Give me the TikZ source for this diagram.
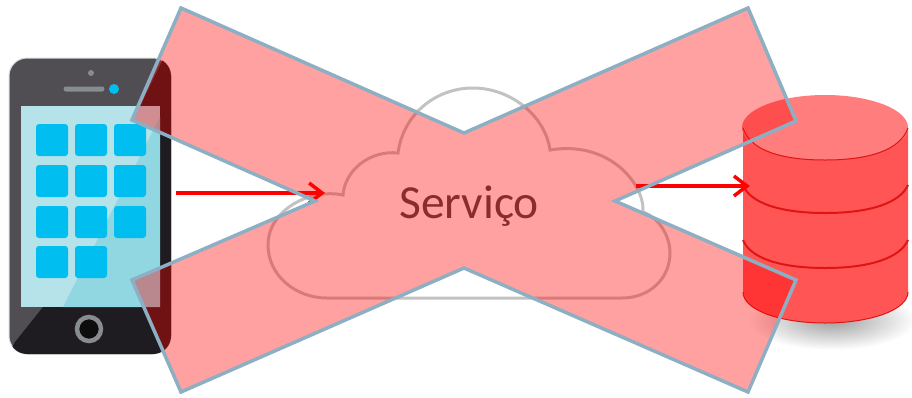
\documentclass[tikz,border=0pt]{standalone}
\usepackage{fontspec}
\setmainfont{Carlito}
\usetikzlibrary{arrows.meta}
\definecolor{phonegrey}{RGB}{80,78,82}
\definecolor{phonedark}{RGB}{30,28,32}
\definecolor{screenlight}{RGB}{182,226,234}
\definecolor{screenglare}{RGB}{145,215,225}
\definecolor{iconblue}{RGB}{0,190,240}
\definecolor{knobgrey}{RGB}{135,140,143}
\definecolor{dbside}{RGB}{255,85,85}
\definecolor{dbtop}{RGB}{255,125,125}
\definecolor{dbline}{RGB}{225,20,20}
\definecolor{crossedge}{RGB}{140,175,195}
\tikzset{icon/.style={fill=iconblue, rounded corners=3pt, minimum width=32pt, minimum height=32pt, inner sep=0pt}}
\tikzset{flow/.style={line width=3.5pt, color=red, -{Straight Barb[length=13pt, width=20pt, line width=3.5pt]}}}
\tikzset{dbband/.style={line width=2pt, color=dbline}}
\tikzset{cloudline/.style={line width=3pt, color=black!24}}
\begin{document}
\begin{tikzpicture}[x=1pt, y=-1pt]
        \useasboundingbox (0,0) rectangle (912,397);

        % cloud
        \draw [cloudline] (327,298) -- (622,298) .. controls (650,298) and (670,278) .. (670,253)
            .. controls (670,235) and (658,217) .. (643,212)
            .. controls (645,185) and (610,140) .. (550,150)
            .. controls (545,115) and (510,88) .. (473,88)
            .. controls (435,88) and (403,115) .. (398,153)
            .. controls (370,150) and (345,170) .. (343,195)
            .. controls (310,188) and (268,210) .. (268,245)
            .. controls (268,275) and (295,298) .. (327,298) -- cycle;
        \node[font=\fontsize{47.5}{56}\selectfont, text=black!72, inner sep=0pt] (Sv) at (469,206) {Serviço};

        % phone
        \node[draw=black!15, line width=1pt, fill=phonegrey, rounded corners=18pt, minimum width=162pt, minimum height=296pt, inner sep=0pt] (Ph) at (90,206) {};
        \begin{scope}
            \clip[rounded corners=18pt] (9,58) rectangle (171,354);
            \fill[phonedark] (165,55) -- (43,307) -- (15,342) -- (5,360) -- (180,360) -- (180,55) -- cycle;
        \end{scope}
        \fill[screenlight] (21,106) rectangle (160,307);
        \fill[screenglare] (160,117) -- (63,307) -- (160,307) -- cycle;
        \node[fill=knobgrey, circle, inner sep=0pt, minimum size=6pt] (Cam) at (91,73) {};
        \node[fill=knobgrey, rounded corners=2.5pt, inner sep=0pt, minimum width=41pt, minimum height=5pt] (Spk) at (84,89) {};
        \node[fill=iconblue, circle, inner sep=0pt, minimum size=10pt] (Led) at (114,89) {};
        \node[draw=knobgrey, fill=black!95, circle, line width=4.5pt, inner sep=0pt, minimum size=24pt] (Btn) at (89,329) {};

        \node[icon] (I1) at (52,140) {};
        \node[icon] (I2) at (91,140) {};
        \node[icon] (I3) at (130,140) {};
        \node[icon] (I4) at (52,181) {};
        \node[icon] (I5) at (91,181) {};
        \node[icon] (I6) at (130,181) {};
        \node[icon] (I7) at (52,222) {};
        \node[icon] (I8) at (91,222) {};
        \node[icon] (I9) at (130,222) {};
        \node[icon] (I10) at (52,262) {};
        \node[icon] (I11) at (91,262) {};

        % database
        \shade[inner color=black!38, outer color=white] (832,320) ellipse (84 and 30);
        \fill[dbside] (743,128) -- (743,292) .. controls (743,310) and (780,323) .. (825,323)
            .. controls (870,323) and (908,310) .. (908,292) -- (908,128) -- cycle;
        \draw [dbband, line width=1pt] (743,292) .. controls (743,310) and (780,323) .. (825,323)
            .. controls (870,323) and (908,310) .. (908,292);
        \draw [dbband] (743,240) .. controls (750,258) and (780,268) .. (825,268)
            .. controls (870,268) and (900,258) .. (908,240);
        \draw [dbband] (743,185) .. controls (750,203) and (780,213) .. (825,213)
            .. controls (870,213) and (900,203) .. (908,185);
        \fill[dbtop] (825,127.5) ellipse (83 and 32.5);
        \draw [dbband, line width=1pt] (743,128) .. controls (750,150) and (780,160) .. (825,160)
            .. controls (870,160) and (900,150) .. (908,128);
        \node[inner sep=0pt, minimum size=0pt] (Db) at (750,186) {};

        % connectors
        \coordinate (Pout) at (176,193);
        \coordinate (Cin) at (325,193);
        \coordinate (Cout) at (636,186);
        \draw [flow] (Pout) -- (Cin);
        \draw [flow] (Cout) -- (Db);

        % cross
        \draw [fill=red, fill opacity=0.37, draw=crossedge, line width=3.5pt, line join=miter]
            (181,8) -- (464,133) -- (748,8) -- (796,121) -- (615,201) -- (796,280)
            -- (748,392) -- (464,268) -- (181,392) -- (132,280) -- (315,201) -- (132,120) -- cycle;
    \end{tikzpicture}
\end{document}
